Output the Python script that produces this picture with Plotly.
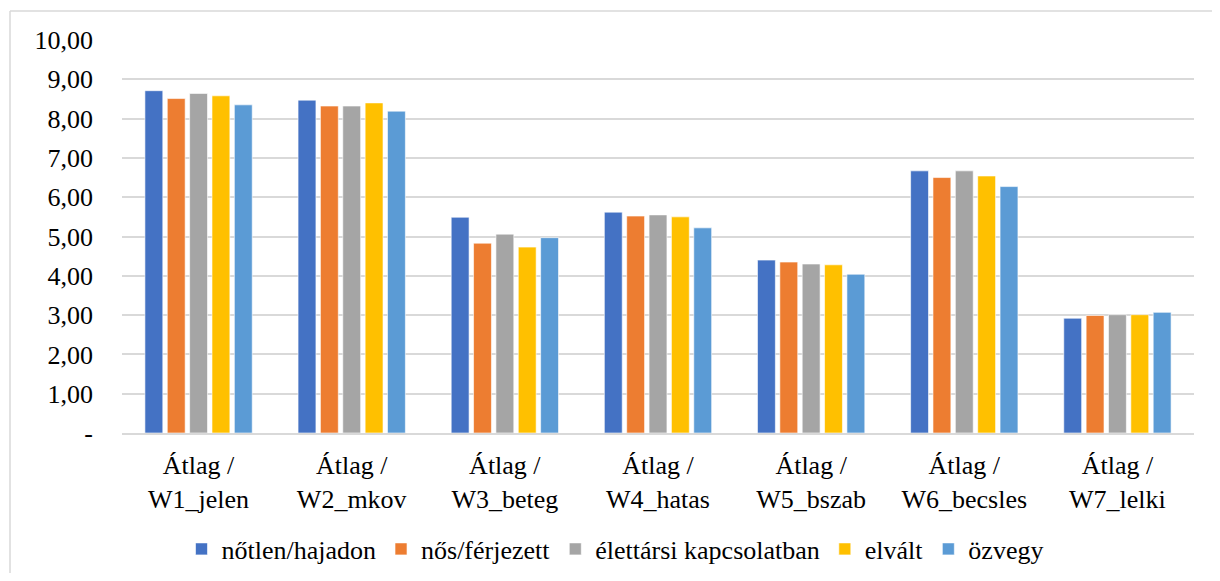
import plotly.graph_objects as go

categories = ["Átlag /<br>W1_jelen", "Átlag /<br>W2_mkov", "Átlag /<br>W3_beteg", "Átlag /<br>W4_hatas",
              "Átlag /<br>W5_bszab", "Átlag /<br>W6_becsles", "Átlag /<br>W7_lelki"]
series_names = ["nőtlen/hajadon", "nős/férjezett", "élettársi kapcsolatban", "elvált", "özvegy"]
notlen = [8.71, 8.47, 5.49, 5.62, 4.40, 6.67, 2.92]
nos = [8.51, 8.32, 4.83, 5.52, 4.35, 6.50, 2.99]
elettarsi = [8.64, 8.32, 5.06, 5.55, 4.30, 6.67, 3.01]
elvalt = [8.58, 8.40, 4.73, 5.50, 4.28, 6.54, 3.01]
ozvegy = [8.35, 8.19, 4.97, 5.22, 4.04, 6.27, 3.07]
tick_vals = [0, 1, 2, 3, 4, 5, 6, 7, 8, 9, 10]
tick_text = ["-", "1,00", "2,00", "3,00", "4,00", "5,00", "6,00", "7,00", "8,00", "9,00", "10,00"]

colors = ["#4472C4", "#ED7D31", "#A5A5A5", "#FFC000", "#5B9BD5"]
all_series = [notlen, nos, elettarsi, elvalt, ozvegy]

# page body has an 8px margin; layout compensates for it
W, H = 1204, 565
ml, mr, mt, mb = 114, 18, 32, 140
pw, ph = W - ml - mr, H - mt - mb


def px(fx):
    return (fx - ml) / pw


def py(fy):
    return (mt + ph - fy) / ph


fig = go.Figure()
for name, vals, c in zip(series_names, all_series, colors):
    fig.add_trace(go.Bar(x=categories, y=vals, name=name, marker_color=c,
                         marker_line=dict(color="rgba(255,255,255,0.6)", width=1)))

font_family = "Liberation Serif"
fs = 26
fig.update_layout(
    width=W, height=H,
    margin=dict(l=ml, r=mr, t=mt, b=mb, autoexpand=False),
    paper_bgcolor="white", plot_bgcolor="white",
    barmode="group", bargap=0.27, bargroupgap=0.2,
    font=dict(family=font_family, color="black", size=fs),
    legend=dict(orientation="h", xref="container", yref="container",
                x=607 / W, xanchor="center",
                y=(H - 541) / H, yanchor="middle",
                font=dict(size=fs, family=font_family, color="black"),
                traceorder="normal"),
    xaxis=dict(showgrid=False, showline=True, linecolor="#d9d9d9", linewidth=1.5,
               tickfont=dict(size=fs, family=font_family, color="black"), ticks="",
               ticklabelstandoff=8),
    yaxis=dict(range=[0, 10], tickvals=tick_vals, ticktext=tick_text,
               showgrid=True, gridcolor="#d9d9d9", gridwidth=1.5, zeroline=False,
               tickfont=dict(size=fs, family=font_family, color="black"), ticks="",
               ticklabelstandoff=28),
    shapes=[
        dict(type="line", xref="paper", yref="paper", x0=px(2), x1=px(W), y0=py(3), y1=py(3),
             line=dict(color="#d9d9d9", width=1.5)),
        dict(type="line", xref="paper", yref="paper", x0=px(2), x1=px(2), y0=py(3), y1=py(H),
             line=dict(color="#d9d9d9", width=1.5)),
    ],
)

fig.write_html("out.html")
